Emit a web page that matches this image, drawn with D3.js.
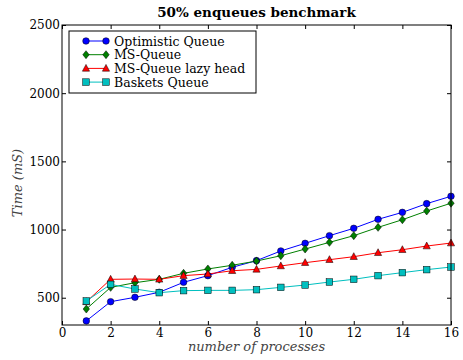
<!DOCTYPE html>
<html>
<head>
<meta charset="utf-8">
<script src="https://cdn.jsdelivr.net/npm/d3@7"></script>
<style>
  body { margin: 0; background: #fff; }
  svg text { font-family: "DejaVu Serif", serif; }
</style>
</head>
<body>
<script>
var w = 463;
var h = 360;

// processes
var procs = [1, 2, 3, 4, 5, 6, 7, 8, 9, 10, 11, 12, 13, 14, 15, 16];

// time in mS
var optimistic = [330, 471, 503, 540, 613, 662, 723, 772, 843, 899, 955, 1009, 1075, 1126, 1190, 1244];
var msQueue = [417, 576, 610, 635, 679, 711, 738, 769, 808, 857, 906, 955, 1016, 1072, 1136, 1193];
var msLazy = [470, 635, 637, 635, 662, 674, 698, 708, 733, 757, 779, 801, 830, 852, 879, 901];
var baskets = [476, 598, 564, 537, 552, 554, 554, 559, 576, 593, 615, 635, 662, 684, 706, 725];

var xTicks = [0, 2, 4, 6, 8, 10, 12, 14, 16];
var yTicks = [500, 1000, 1500, 2000, 2500];

var series = [
  { name: "Optimistic Queue", values: optimistic, color: "#0000ff", marker: "circle" },
  { name: "MS-Queue", values: msQueue, color: "#008000", marker: "diamond" },
  { name: "MS-Queue lazy head", values: msLazy, color: "#ff0000", marker: "triangle" },
  { name: "Baskets Queue", values: baskets, color: "#00bfbf", marker: "square" }
];

var m = { left: 62, right: 12, top: 25, bottom: 35 };
var pw = w - m.left - m.right;
var ph = h - m.top - m.bottom;

var xScale = d3.scaleLinear().domain([0, 16]).range([0, pw]);
var yScale = d3.scaleLinear().domain([300, 2500]).range([ph, 0]);

var svg = d3.select("body").append("svg")
  .attr("width", w)
  .attr("height", h);

svg.append("text")
  .attr("x", m.left + pw / 2)
  .attr("y", 17)
  .attr("text-anchor", "middle")
  .attr("font-weight", "bold")
  .attr("font-size", 13.5)
  .text("50% enqueues benchmark");

var g = svg.append("g").attr("transform", "translate(" + m.left + "," + m.top + ")");

// lines + markers
var line = d3.line()
  .x(function (d, i) { return xScale(procs[i]); })
  .y(function (d) { return yScale(d); });

function drawMarker(sel, type, color) {
  if (type === "circle") {
    sel.append("circle").attr("r", 3.3);
  } else if (type === "diamond") {
    sel.append("path").attr("d", "M0,-4L3.2,0L0,4L-3.2,0Z");
  } else if (type === "triangle") {
    sel.append("path").attr("d", "M0,-4L3.6,2.8L-3.6,2.8Z");
  } else {
    sel.append("rect").attr("x", -3.3).attr("y", -3.3).attr("width", 6.6).attr("height", 6.6);
  }
  sel.selectAll("*")
    .attr("fill", color)
    .attr("stroke", "#000")
    .attr("stroke-width", 0.5);
}

series.forEach(function (s) {
  g.append("path")
    .attr("d", line(s.values))
    .attr("fill", "none")
    .attr("stroke", s.color)
    .attr("stroke-width", 1);
});

series.forEach(function (s) {
  s.values.forEach(function (v, i) {
    var mk = g.append("g")
      .attr("transform", "translate(" + xScale(procs[i]) + "," + yScale(v) + ")");
    drawMarker(mk, s.marker, s.color);
  });
});

// axes, ticks inward on all sides
var fmt = d3.format("d");
var xBottom = d3.axisBottom(xScale).tickValues(xTicks).tickSizeInner(-4).tickSizeOuter(0).tickPadding(3).tickFormat(fmt);
var xTop = d3.axisTop(xScale).tickValues(xTicks).tickSizeInner(-4).tickSizeOuter(0).tickFormat("");
var yLeft = d3.axisLeft(yScale).tickValues(yTicks).tickSizeInner(-4).tickSizeOuter(0).tickPadding(2).tickFormat(fmt);
var yRight = d3.axisRight(yScale).tickValues(yTicks).tickSizeInner(-4).tickSizeOuter(0).tickFormat("");

g.append("g").attr("transform", "translate(0," + ph + ")").call(xBottom);
g.append("g").call(xTop);
g.append("g").call(yLeft);
g.append("g").attr("transform", "translate(" + pw + ",0)").call(yRight);

svg.selectAll(".tick text")
  .attr("font-family", "DejaVu Serif, serif")
  .attr("font-size", 12)
  .attr("fill", "#000");
svg.selectAll(".domain").remove();
svg.selectAll(".tick line").attr("stroke", "#000");

g.append("rect")
  .attr("width", pw)
  .attr("height", ph)
  .attr("fill", "none")
  .attr("stroke", "#000")
  .attr("stroke-width", 1);

// axis labels
svg.append("text")
  .attr("x", m.left + pw / 2)
  .attr("y", 351)
  .attr("text-anchor", "middle")
  .attr("font-style", "italic")
  .attr("font-size", 13)
  .attr("fill", "#444")
  .text("number of processes");

svg.append("text")
  .attr("transform", "translate(22," + (m.top + ph / 2 + 8) + ") rotate(-90)")
  .attr("text-anchor", "middle")
  .attr("font-style", "italic")
  .attr("font-size", 13)
  .attr("fill", "#444")
  .text("Time (mS)");

// legend
var lg = svg.append("g").attr("transform", "translate(69,31)");
lg.append("rect")
  .attr("width", 187)
  .attr("height", 62)
  .attr("fill", "#fff")
  .attr("stroke", "#000")
  .attr("stroke-width", 1);

series.forEach(function (s, i) {
  var yy = 10 + i * 13.7;
  lg.append("line")
    .attr("x1", 17).attr("x2", 37)
    .attr("y1", yy).attr("y2", yy)
    .attr("stroke", s.color)
    .attr("stroke-width", 1);
  [17, 37].forEach(function (xx) {
    var mk = lg.append("g").attr("transform", "translate(" + xx + "," + yy + ")");
    drawMarker(mk, s.marker, s.color);
  });
  lg.append("text")
    .attr("x", 45)
    .attr("y", yy + 4.5)
    .attr("font-size", 12.5)
    .text(s.name);
});
</script>
</body>
</html>
